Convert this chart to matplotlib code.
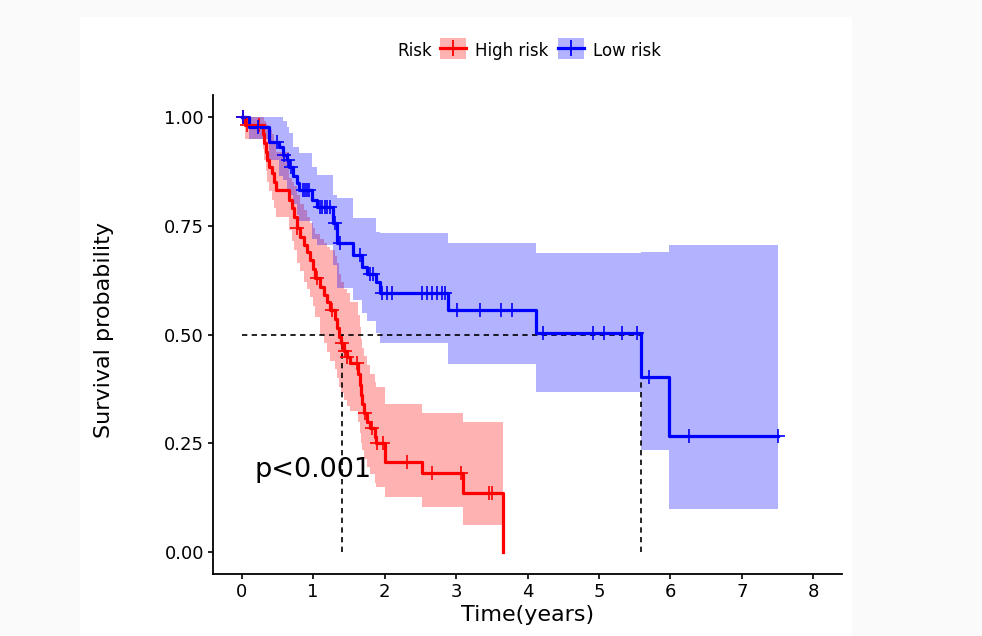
import numpy as np
import matplotlib
matplotlib.use("Agg")
import matplotlib.pyplot as plt
from matplotlib.patches import Rectangle, Patch
from matplotlib.lines import Line2D
from matplotlib.legend_handler import HandlerPatch

# High risk: KM steps (time, survival) and 95% CI
t_high = [0, 0.05, 0.3, 0.32, 0.34, 0.36, 0.38, 0.42, 0.45, 0.48, 0.66, 0.7, 0.74, 0.77,
          0.82, 0.87, 0.92, 0.96, 1.0, 1.03, 1.1, 1.15, 1.2, 1.24, 1.3, 1.33, 1.36, 1.39,
          1.43, 1.47, 1.52, 1.63, 1.65, 1.67, 1.69, 1.71, 1.76, 1.8, 1.86, 1.88, 2.0,
          2.52, 3.1, 3.66]
s_high = [1.0, 0.98, 0.96, 0.94, 0.92, 0.90, 0.885, 0.87, 0.85, 0.832, 0.81, 0.79, 0.77,
          0.745, 0.725, 0.705, 0.69, 0.67, 0.65, 0.63, 0.61, 0.59, 0.575, 0.556, 0.535,
          0.515, 0.495, 0.48, 0.462, 0.448, 0.434, 0.41, 0.385, 0.36, 0.34, 0.32, 0.30,
          0.285, 0.265, 0.25, 0.207, 0.182, 0.136, 0.0]
up_high = [1.0, 1.0, 1.0, 0.99, 0.985, 0.98, 0.97, 0.96, 0.94, 0.92, 0.86, 0.85, 0.84,
           0.82, 0.80, 0.785, 0.77, 0.755, 0.745, 0.73, 0.72, 0.71, 0.70, 0.695, 0.68,
           0.665, 0.64, 0.62, 0.605, 0.595, 0.575, 0.545, 0.517, 0.49, 0.47, 0.45, 0.43,
           0.41, 0.39, 0.38, 0.34, 0.32, 0.30, 0.30]
lo_high = [1.0, 0.95, 0.925, 0.90, 0.875, 0.85, 0.83, 0.81, 0.79, 0.77, 0.74, 0.715,
           0.695, 0.665, 0.645, 0.62, 0.605, 0.585, 0.565, 0.54, 0.50, 0.48, 0.46, 0.44,
           0.42, 0.40, 0.38, 0.365, 0.35, 0.335, 0.325, 0.30, 0.274, 0.25, 0.235, 0.215,
           0.195, 0.18, 0.16, 0.15, 0.126, 0.103, 0.062, 0.062]
cens_high = [0.02, 0.08, 0.24, 0.78, 1.05, 1.26, 1.4, 1.44, 1.48, 1.61, 1.72, 1.83,
             1.9, 1.98, 2.31, 2.66, 3.07, 3.46, 3.51]

# Low risk
t_low = [0, 0.11, 0.39, 0.52, 0.58, 0.63, 0.66, 0.72, 0.77, 0.81, 0.98, 1.06, 1.28,
         1.33, 1.56, 1.68, 1.76, 1.88, 1.93, 2.89, 4.12, 5.59, 5.98, 7.51]
s_low = [1.0, 0.977, 0.943, 0.93, 0.912, 0.90, 0.885, 0.865, 0.848, 0.832, 0.81, 0.793,
         0.756, 0.71, 0.683, 0.655, 0.64, 0.62, 0.595, 0.556, 0.503, 0.403, 0.267, 0.267]
up_low = [1.0, 1.0, 1.0, 1.0, 0.99, 0.977, 0.963, 0.93, 0.93, 0.917, 0.885, 0.867, 0.82,
          0.813, 0.767, 0.767, 0.767, 0.736, 0.733, 0.71, 0.687, 0.69, 0.705, 0.705]
lo_low = [1.0, 0.95, 0.90, 0.865, 0.855, 0.835, 0.82, 0.80, 0.775, 0.76, 0.72, 0.705,
          0.66, 0.607, 0.579, 0.55, 0.53, 0.503, 0.48, 0.432, 0.368, 0.234, 0.10, 0.10]
cens_low = [0.02, 0.23, 0.49, 0.6, 0.65, 0.69, 0.86, 0.89, 0.92, 0.95, 1.09, 1.13, 1.17,
            1.2, 1.24, 1.3, 1.37, 1.65, 1.8, 1.84, 1.96, 2.03, 2.1, 2.52, 2.59, 2.66,
            2.73, 2.8, 2.84, 3.01, 3.33, 3.63, 3.78, 4.22, 4.92, 5.07, 5.32, 5.53, 5.7,
            6.26, 7.51]

median_high = 1.4
median_low = 5.59
groups = ["High risk", "Low risk"]
colors = ["#FF0000", "#0000FF"]
p_text = "p<0.001"


def surv_at(times, surv, t):
    idx = np.searchsorted(times, t, side="right") - 1
    return np.asarray(surv)[idx]


def centred_box(legend, orig_handle, xdescent, ydescent, width, height, fontsize):
    # keep the key box centred on the line drawn through it
    return Rectangle((-xdescent, -ydescent / 2), width, height)


fig = plt.figure(figsize=(9.82, 6.36), dpi=100, facecolor="#fafafa")
fig.patches.append(Rectangle((80 / 982, 0), 772 / 982, 619 / 636,
                             transform=fig.transFigure, facecolor="white",
                             edgecolor="none", zorder=-10))
ax = fig.add_axes([213 / 982, 62 / 636, 629 / 982, 479 / 636])
ax.set_facecolor("none")
ax.set_zorder(1)

data = [(t_high, s_high, up_high, lo_high, cens_high),
        (t_low, s_low, up_low, lo_low, cens_low)]

for (t, s, up, lo, cens), col in zip(data, colors):
    ax.fill_between(t, lo, up, step="post", color=col, alpha=0.3, lw=0, zorder=1)

for (t, s, up, lo, cens), col in zip(data, colors):
    ax.step(t, s, where="post", color=col, lw=2.3, zorder=3)
    ax.plot(cens, surv_at(t, s, cens), "+", color=col, ms=10, mew=1.2, zorder=4)

# median lines
dash = (0, (3.2, 2.6))
ax.plot([0, median_low], [0.5, 0.5], color="black", lw=1.2, ls=dash, zorder=2)
ax.plot([median_high, median_high], [0, 0.5], color="black", lw=1.2, ls=dash, zorder=2)
ax.plot([median_low, median_low], [0, 0.5], color="black", lw=1.2, ls=dash, zorder=2)

ax.text(0.18, 0.172, p_text, fontsize=19.5, ha="left", va="baseline", zorder=5)

ax.set_xlim(-0.4, 8.4)
ax.set_ylim(-0.05, 1.05)
ax.set_xticks(range(0, 9))
ax.set_yticks([0, 0.25, 0.5, 0.75, 1.0])
ax.set_yticklabels(["0.00", "0.25", "0.50", "0.75", "1.00"])
for sp in ["top", "right"]:
    ax.spines[sp].set_visible(False)
for sp in ["left", "bottom"]:
    ax.spines[sp].set_linewidth(1.3)
ax.tick_params(length=3.5, width=1.2, labelsize=13, pad=3, colors="black")

ax.set_xlabel("Time(years)", fontsize=16)
ax.set_ylabel("Survival probability", fontsize=16)
ax.xaxis.set_label_coords(0.5, -0.065)
ax.yaxis.set_label_coords(-0.158, 0.51)

# legend
fig.text(397 / 982, 1 - 51 / 636, "Risk", fontsize=12, ha="left", va="center")
handles = [(Patch(facecolor=c, alpha=0.3, edgecolor="none"),
            Line2D([], [], color=c, lw=2.3, marker="+", ms=12, mew=1.3))
           for c in colors]
fig.legend(handles, groups, loc="center left", bbox_to_anchor=(440 / 982, 1 - 51 / 636),
           ncol=2, frameon=False, fontsize=12, borderpad=0, borderaxespad=0,
           handlelength=1.56, handleheight=1.6, handletextpad=0.54, columnspacing=0.56,
           handler_map={Patch: HandlerPatch(patch_func=centred_box)})

fig.savefig("out.png", dpi=100, facecolor=fig.get_facecolor())
